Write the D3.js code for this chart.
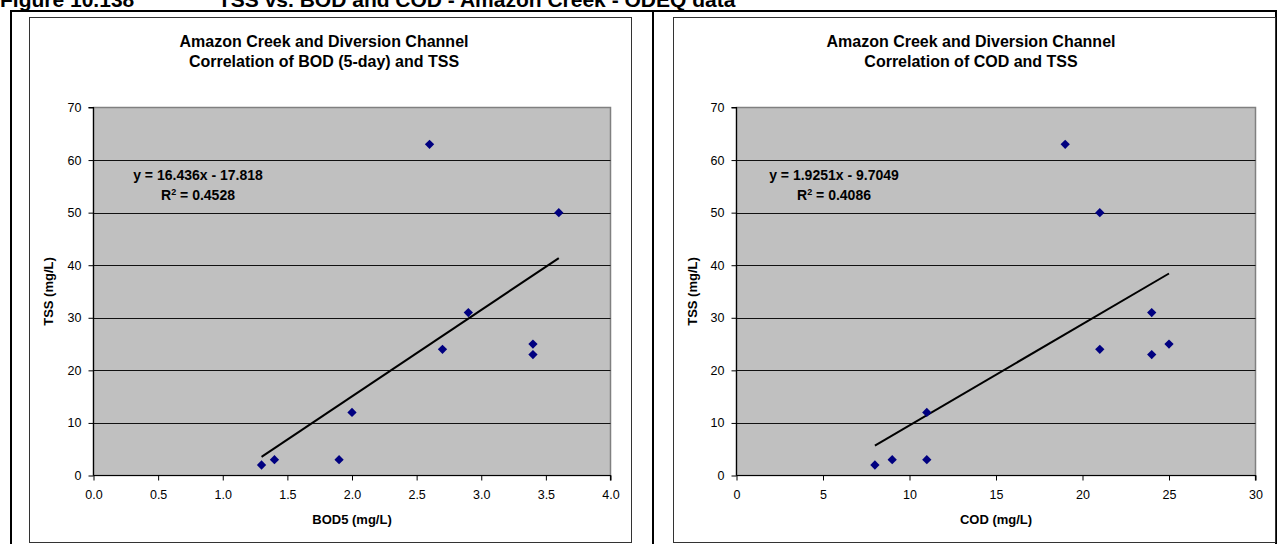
<!DOCTYPE html>
<html><head><meta charset="utf-8">
<script src="https://cdn.jsdelivr.net/npm/d3@7"></script>
<style>
body{margin:0;background:#fff}
svg{display:block}
text{font-family:Arial,"Liberation Sans",sans-serif;fill:#000}
</style>
</head><body>
<svg id="c" width="1285" height="544"></svg>
<script>
// ---- data ----
const figureNo = "Figure 10.138";
const figureTitle = "TSS vs. BOD and COD - Amazon Creek - ODEQ data";
const bodX = [1.3, 1.4, 1.9, 2.0, 2.6, 2.7, 2.9, 3.4, 3.4, 3.6];
const bodTSS = [2, 3, 3, 12, 63, 24, 31, 25, 23, 50];
const codX = [8, 9, 11, 11, 19, 21, 21, 24, 24, 25];
const codTSS = [2, 3, 3, 12, 63, 50, 24, 31, 23, 25];
const yTicks = [0, 10, 20, 30, 40, 50, 60, 70];
const bodTicks = [0, 0.5, 1.0, 1.5, 2.0, 2.5, 3.0, 3.5, 4.0];
const codTicks = [0, 5, 10, 15, 20, 25, 30];
const bodFit = {slope: 16.436, intercept: -17.818, eq: "y = 16.436x - 17.818", r2: "0.4528"};
const codFit = {slope: 1.9251, intercept: -9.7049, eq: "y = 1.9251x - 9.7049", r2: "0.4086"};

const svg = d3.select("#c");

// header
svg.append("text").attr("x", 0).attr("y", 7).attr("font-size", 21).attr("font-weight", "bold").text(figureNo);
svg.append("text").attr("x", 218).attr("y", 7).attr("font-size", 21).attr("font-weight", "bold").text(figureTitle);

// outer table border
const outer = svg.append("g").attr("stroke", "#000").attr("stroke-width", 2).attr("fill", "none");
outer.append("line").attr("x1", 10).attr("x2", 1277).attr("y1", 11).attr("y2", 11);
outer.append("line").attr("x1", 11).attr("x2", 11).attr("y1", 11).attr("y2", 544);
outer.append("line").attr("x1", 653).attr("x2", 653).attr("y1", 11).attr("y2", 544);
outer.append("line").attr("x1", 1276).attr("x2", 1276).attr("y1", 11).attr("y2", 544);

const panels = [
  {frame: [29.5, 17.5, 631.5, 542.5], plot: [93.5, 107.5, 610.5, 475.5],
   xs: bodX, ys: bodTSS, xDomain: [0, 4], xTicks: bodTicks, fmt: d3.format(".1f"),
   title: ["Amazon Creek and Diversion Channel", "Correlation of BOD (5-day) and TSS"],
   titleX: 324, xTitle: "BOD5 (mg/L)", fit: bodFit, eqX: 198},
  {frame: [673.5, 17.5, 1275.5, 542.5], plot: [736.5, 107.5, 1255.5, 475.5],
   xs: codX, ys: codTSS, xDomain: [0, 30], xTicks: codTicks, fmt: d3.format("d"),
   title: ["Amazon Creek and Diversion Channel", "Correlation of COD and TSS"],
   titleX: 971, xTitle: "COD (mg/L)", fit: codFit, eqX: 834}
];

panels.forEach(p => {
  const g = svg.append("g");
  const [fx0, fy0, fx1, fy1] = p.frame;
  const [px0, py0, px1, py1] = p.plot;
  g.append("rect").attr("x", fx0).attr("y", fy0).attr("width", fx1 - fx0).attr("height", fy1 - fy0)
    .attr("fill", "#fff").attr("stroke", "#333").attr("stroke-width", 1);

  const x = d3.scaleLinear().domain(p.xDomain).range([px0, px1]);
  const y = d3.scaleLinear().domain([0, 70]).range([py1, py0]);

  // plot area
  g.append("rect").attr("x", px0).attr("y", py0).attr("width", px1 - px0).attr("height", py1 - py0)
    .attr("fill", "#c0c0c0").attr("stroke", "#808080").attr("stroke-width", 1.5);

  // gridlines
  g.append("g").selectAll("line").data(yTicks.filter(t => t > 0 && t < 70)).join("line")
    .attr("x1", px0).attr("x2", px1).attr("y1", d => Math.round(y(d)) + 0.5).attr("y2", d => Math.round(y(d)) + 0.5)
    .attr("stroke", "#111").attr("stroke-width", 1);

  // axes
  const yAxis = d3.axisLeft(y).tickValues(yTicks).tickSize(5).tickPadding(7).tickFormat(d3.format("d"));
  const ya = g.append("g").attr("transform", `translate(${px0},0)`).call(yAxis);
  const xAxis = d3.axisBottom(x).tickValues(p.xTicks).tickSize(5).tickPadding(10).tickFormat(p.fmt);
  const xa = g.append("g").attr("transform", `translate(0,${py1})`).call(xAxis);
  [ya, xa].forEach(a => {
    a.select(".domain").attr("stroke", "#000").attr("stroke-width", 1.2);
    a.selectAll(".tick line").attr("stroke", "#000");
    a.selectAll(".tick text").attr("font-size", 12.5).attr("font-family", "Arial, 'Liberation Sans', sans-serif").attr("fill", "#000");
  });
  ya.select(".domain").attr("d", `M-5,${py0}H0V${py1}`);
  xa.select(".domain").attr("d", `M${px0},0H${px1}V5`);

  // trend line
  const xMin = d3.min(p.xs), xMax = d3.max(p.xs);
  g.append("line")
    .attr("x1", x(xMin)).attr("y1", y(p.fit.slope * xMin + p.fit.intercept))
    .attr("x2", x(xMax)).attr("y2", y(p.fit.slope * xMax + p.fit.intercept))
    .attr("stroke", "#000").attr("stroke-width", 2);

  // points
  const sym = d3.symbol().type(d3.symbolDiamond2).size(55);
  g.append("g").selectAll("path").data(p.xs.map((v, i) => [v, p.ys[i]])).join("path")
    .attr("d", sym).attr("transform", d => `translate(${x(d[0])},${y(d[1])})`)
    .attr("fill", "#000080");

  // titles
  g.append("text").attr("x", p.titleX).attr("y", 47).attr("text-anchor", "middle")
    .attr("font-size", 16).attr("font-weight", "bold").text(p.title[0]);
  g.append("text").attr("x", p.titleX).attr("y", 67).attr("text-anchor", "middle")
    .attr("font-size", 16).attr("font-weight", "bold").text(p.title[1]);
  g.append("text").attr("x", (px0 + px1) / 2).attr("y", 524).attr("text-anchor", "middle")
    .attr("font-size", 13).attr("font-weight", "bold").text(p.xTitle);
  g.append("text")
    .attr("transform", `translate(${fx0 + 23},${(py0 + py1) / 2}) rotate(-90)`)
    .attr("x", 0).attr("y", 0).attr("text-anchor", "middle")
    .attr("font-size", 13).attr("font-weight", "bold").text("TSS (mg/L)");

  // equation
  g.append("text").attr("x", p.eqX).attr("y", 180).attr("text-anchor", "middle")
    .attr("font-size", 14).attr("font-weight", "bold").text(p.fit.eq);
  const r = g.append("text").attr("x", p.eqX).attr("y", 200).attr("text-anchor", "middle")
    .attr("font-size", 14).attr("font-weight", "bold");
  r.append("tspan").text("R");
  r.append("tspan").attr("dy", -5).attr("font-size", 9).text("2");
  r.append("tspan").attr("dy", 5).text(" = " + p.fit.r2);
});
</script>
</body></html>
